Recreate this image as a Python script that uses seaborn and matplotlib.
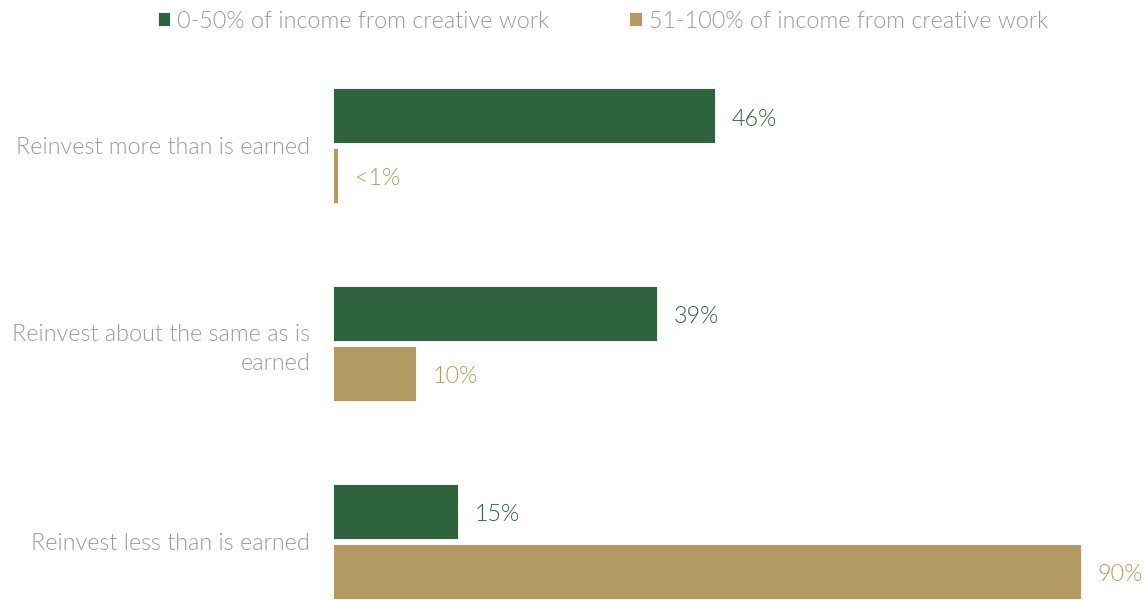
import matplotlib
matplotlib.use("Agg")
import matplotlib.pyplot as plt
import seaborn as sns
import pandas as pd

# Survey answers and shares per income group
categories = [
    "Reinvest more than is earned",
    "Reinvest about the same as is\nearned",
    "Reinvest less than is earned",
]
groups = ["0-50% of income from creative work", "51-100% of income from creative work"]
low_share = [46, 39, 15]
high_share = [0.6, 10, 90]
low_labels = ["46%", "39%", "15%"]
high_labels = ["<1%", "10%", "90%"]

green = "#2F633E"
tan = "#B39A63"
text_gray = "#9A9A9A"
FS = 16.8
LIGHT = 300

df = pd.DataFrame({
    "category": categories * 2,
    "group": [groups[0]] * 3 + [groups[1]] * 3,
    "share": low_share + high_share,
})

sns.set_theme(style="white")
plt.rcParams["font.family"] = ["Lato", "DejaVu Sans"]
plt.rcParams["font.weight"] = LIGHT

fig = plt.figure(figsize=(11.44, 6.0), dpi=100)
ax = fig.add_axes([333 / 1144, 0.0, 1 - 333 / 1144, 1.0])

sns.barplot(
    data=df, y="category", x="share", hue="group",
    order=categories, hue_order=groups,
    palette=[green, tan], saturation=1, orient="h",
    width=0.606, gap=0.083, edgecolor="white", linewidth=0.6,
    ax=ax, legend=True,
)

ax.set_xlim(0, 97.58)
ax.set_ylim(2.298, -0.736)

for cont, labels, col in zip(ax.containers, [low_labels, high_labels], [green, tan]):
    anns = ax.bar_label(cont, labels=labels, padding=12, color=col,
                        fontsize=FS, fontweight=LIGHT)
    for a in anns:
        a.xyann = (12, -2.5)

ax.set_xlabel("")
ax.set_ylabel("")
ax.set_xticks([])
ax.tick_params(axis="y", length=0, pad=16.5, labelsize=FS, labelcolor=text_gray)
for t in ax.get_yticklabels():
    t.set_fontweight(LIGHT)
    t.set_horizontalalignment("right")
    t.set_multialignment("right")
    t.set_linespacing(1.45)
sns.despine(ax=ax, left=True, bottom=True)

handles, labels = ax.get_legend_handles_labels()
ax.get_legend().remove()
leg = fig.legend(
    handles, labels, loc="center", bbox_to_anchor=(0.527, 1 - 21 / 600),
    ncol=2, frameon=False, fontsize=FS, handlelength=0.55, handleheight=0.55,
    handletextpad=0.3, columnspacing=3.4, borderaxespad=0,
)
for t in leg.get_texts():
    t.set_color(text_gray)
    t.set_fontweight(LIGHT)

fig.savefig("out.png", dpi=100)
